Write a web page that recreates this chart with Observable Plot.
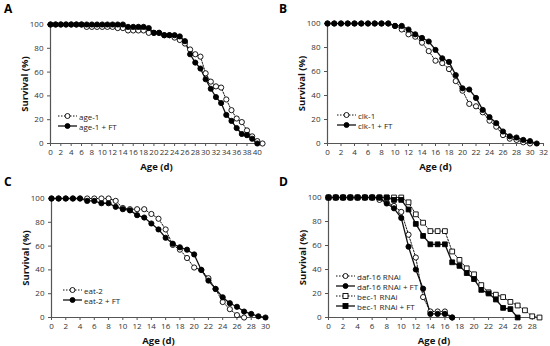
<!DOCTYPE html>
<html>
<head>
<meta charset="utf-8">
<script src="https://cdn.jsdelivr.net/npm/d3@7"></script>
<script src="https://cdn.jsdelivr.net/npm/@observablehq/plot@0.6"></script>
<style>
  html, body { margin: 0; padding: 0; background: #fff; }
  #wrap { position: relative; width: 550px; height: 346px; font-family: "Open Sans", "Noto Sans", sans-serif; }
  .panel { position: absolute; width: 275px; height: 173px; }
  .letter { position: absolute; font: bold 12px "Open Sans", sans-serif; color: #000; line-height: 14px; }
  .legend { position: absolute; font: 8px "Open Sans", sans-serif; color: #222; }
  .legend .row { display: flex; align-items: center; height: 10px; }
  .legend svg { margin-right: 2px; }
</style>
</head>
<body>
<div id="wrap"></div>
<script>
// ---- Data (survival %, index = day starting at 0) ----
const ageOne      = [100,100,100,100,100,100,100,98,98,98,98,98,98,97,97,95,95,95,95,93,93,93,91,91,89,87,84,79,75,73,59,52,48,47,37,28,21,18,11,6,2,0];
const ageOneFT    = [100,100,100,100,100,100,100,100,100,100,100,100,100,100,100,98,98,98,98,97,93,93,91,91,91,90,86,75,68,63,54,46,39,34,24,19,13,8,7,4,0];
const clkOne      = [100,100,100,100,100,100,100,100,100,100,98,95,91,89,84,77,69,67,62,52,44,33,31,26,19,14,7,4,3,1,0];
const clkOneFT    = [100,100,100,100,100,100,100,100,100,100,98,98,95,91,88,85,78,71,68,57,46,45,38,28,22,17,10,6,5,3,2,0];
const eatTwo      = [100,100,100,100,100,100,100,100,100,98,92,91,91,91,87,83,74,61,57,50,42,40,33,24,13,7,2,0];
const eatTwoFT    = [100,100,100,100,100,98,98,96,96,93,91,90,86,84,79,74,67,62,59,57,53,40,31,24,17,12,9,5,3,1,0];
const daf16       = [100,100,100,100,100,100,100,98,96,93,88,69,50,17,5,5,5,0];
const daf16FT     = [100,100,100,100,100,100,100,100,95,91,83,59,40,24,3,3,3,0];
const bec1        = [100,100,100,100,100,100,100,100,100,100,100,96,86,79,72,72,72,55,48,41,36,27,21,19,17,13,10,6,1,0];
const bec1FT      = [100,100,100,100,100,100,100,100,100,98,98,90,78,68,61,61,61,46,43,37,32,23,20,15,8,7,0];

const xTicksA = d3.range(0, 41, 2);
const xTicksB = d3.range(0, 33, 2);
const xTicksC = d3.range(0, 31, 2);
const xTicksD = d3.range(0, 29, 2);
const yTicks = [0, 20, 40, 60, 80, 100];

const toRows = (arr, name) => arr.map((v, i) => ({day: i, surv: v, name}));

const panels = [
  {letter: "A", left: 0, top: 0, xmax: 41, xticks: xTicksA, m: {l: 50, r: 13, t: 24, b: 30},
   series: [
     {name: "age-1", vals: ageOne, open: true, symbol: "circle"},
     {name: "age-1 + FT", vals: ageOneFT, open: false, symbol: "circle"}],
   legend: {x: 58, y: 111}},
  {letter: "B", left: 275, top: 0, xmax: 32, xticks: xTicksB, m: {l: 52, r: 7, t: 23, b: 30},
   series: [
     {name: "clk-1", vals: clkOne, open: true, symbol: "circle"},
     {name: "clk-1 + FT", vals: clkOneFT, open: false, symbol: "circle"}],
   legend: {x: 62, y: 110}},
  {letter: "C", left: 0, top: 173, xmax: 30, xticks: xTicksC, m: {l: 51, r: 10, t: 25, b: 29},
   series: [
     {name: "eat-2", vals: eatTwo, open: true, symbol: "circle"},
     {name: "eat-2 + FT", vals: eatTwoFT, open: false, symbol: "circle"}],
   legend: {x: 63, y: 112}},
  {letter: "D", left: 275, top: 173, xmax: 29, xticks: xTicksD, m: {l: 53, r: 11, t: 24, b: 29},
   series: [
     {name: "daf-16 RNAi", vals: daf16, open: true, symbol: "circle"},
     {name: "daf-16 RNAi + FT", vals: daf16FT, open: false, symbol: "circle"},
     {name: "bec-1 RNAi", vals: bec1, open: true, symbol: "square"},
     {name: "bec-1 RNAi + FT", vals: bec1FT, open: false, symbol: "square"}],
   legend: {x: 61, y: 98}}
];

const wrap = document.getElementById("wrap");
const axisColor = "#555";

for (const p of panels) {
  const marks = [];
  marks.push(Plot.axisY(yTicks, {tickSize: 3, tickPadding: 4, fontSize: 8, stroke: axisColor, color: "#333", label: "Survival (%)", labelAnchor: "center", labelArrow: "none", labelOffset: 29}));
  marks.push(Plot.axisX(p.xticks, {tickSize: 3, tickPadding: 3, fontSize: 8, stroke: axisColor, color: "#333", label: "Age (d)", labelAnchor: "center", labelArrow: "none", labelOffset: 26}));
  marks.push(Plot.ruleX([0], {stroke: axisColor, strokeWidth: 1.2}));
  marks.push(Plot.ruleY([0], {stroke: axisColor, strokeWidth: 1.2}));
  for (const s of p.series) {
    const rows = toRows(s.vals, s.name);
    marks.push(Plot.line(rows, {x: "day", y: "surv", stroke: "#111", strokeWidth: s.open ? 1 : 1.3, strokeDasharray: s.open ? "1.5,1.5" : null}));
  }
  for (const s of p.series) {
    const rows = toRows(s.vals, s.name);
    marks.push(Plot.dot(rows, {x: "day", y: "surv", symbol: s.symbol, r: s.symbol === "square" ? 2.7 : 2.6,
      fill: s.open ? "#fff" : "#000", stroke: "#000", strokeWidth: 0.9}));
  }
  const chart = Plot.plot({
    width: 275, height: 173,
    marginLeft: p.m.l, marginRight: p.m.r, marginTop: p.m.t, marginBottom: p.m.b,
    x: {domain: [0, p.xmax]},
    y: {domain: [0, 100]},
    style: {fontFamily: "'Open Sans', 'Noto Sans', sans-serif", background: "transparent", overflow: "visible"},
    marks
  });
  chart.querySelectorAll("[aria-label='x-axis label'], [aria-label='y-axis label']").forEach(g => {
    g.setAttribute("font-weight", "bold");
    g.setAttribute("font-size", "9.5");
    g.setAttribute("fill", "#111");
  });
  const div = document.createElement("div");
  div.className = "panel";
  div.style.left = p.left + "px";
  div.style.top = p.top + "px";
  div.appendChild(chart);
  wrap.appendChild(div);

  const letter = document.createElement("div");
  letter.className = "letter";
  letter.textContent = p.letter;
  letter.style.left = (p.left + 4) + "px";
  letter.style.top = (p.top + 2) + "px";
  wrap.appendChild(letter);

  const lg = document.createElement("div");
  lg.className = "legend";
  lg.style.left = (p.left + p.legend.x) + "px";
  lg.style.top = (p.top + p.legend.y) + "px";
  for (const s of p.series) {
    const row = document.createElement("div");
    row.className = "row";
    const fill = s.open ? "#fff" : "#000";
    const shape = s.symbol === "square"
      ? `<rect x="7" y="2.5" width="5" height="5" fill="${fill}" stroke="#000" stroke-width="0.9"/>`
      : `<circle cx="9.5" cy="5" r="2.5" fill="${fill}" stroke="#000" stroke-width="0.9"/>`;
    row.innerHTML = `<svg width="19" height="10"><line x1="0" x2="19" y1="5" y2="5" stroke="#111" stroke-width="${s.open ? 1 : 1.3}" ${s.open ? 'stroke-dasharray="1.5,1.5"' : ''}/>${shape}</svg><span>${s.name}</span>`;
    lg.appendChild(row);
  }
  wrap.appendChild(lg);
}
</script>
</body>
</html>
